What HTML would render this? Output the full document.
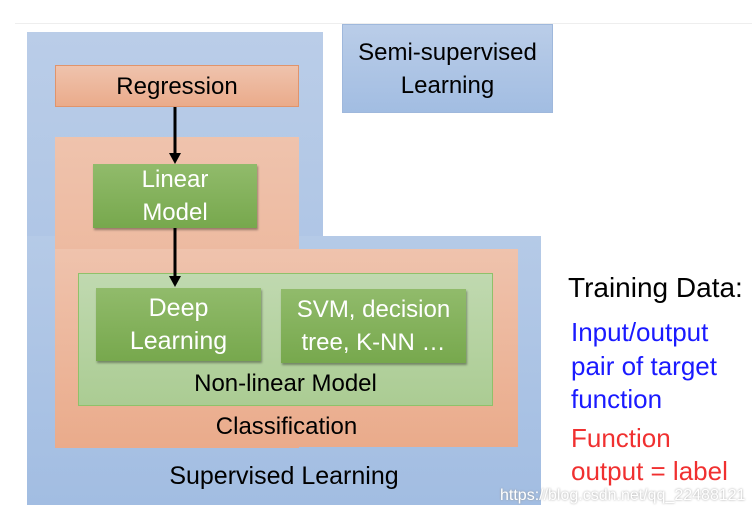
<!DOCTYPE html>
<html><head><style>
body{margin:0;width:752px;height:518px;background:#fff;position:relative;overflow:hidden;font-family:"Liberation Sans",sans-serif;}
div{position:absolute;box-sizing:border-box;}
.t{display:flex;align-items:center;justify-content:center;text-align:center;line-height:33px;font-size:24px;white-space:nowrap;}
.blue{background:linear-gradient(#bacde8,#a2bde2);}
.or{background:linear-gradient(#efc3ad,#eaab8b);}
.gb{background:linear-gradient(#91bb6b,#77a84d);color:#fff;box-shadow:1px 2px 2px rgba(0,0,0,.35);}
</style></head><body>
<div style="left:15px;top:23px;width:737px;height:1px;background:#eee"></div>
<div class="blue" style="left:27px;top:32px;width:296px;height:473px"></div>
<div class="blue" style="left:27px;top:236px;width:514px;height:269px;background:linear-gradient(#b5cae7,#a2bde2)"></div>
<div class="blue t" style="left:342px;top:24px;width:211px;height:89px;border:1px solid #9fb8dc;font-size:24px">Semi-supervised<br>Learning</div>
<div class="or t" style="left:55px;top:65px;width:244px;height:42px;border:1px solid #e0946c;font-size:24px">Regression</div>
<div class="or" style="left:55px;top:137px;width:244px;height:311px"></div>
<div class="or" style="left:55px;top:249px;width:463px;height:198px"></div>
<div class="gb t" style="left:93px;top:164px;width:164px;height:64px">Linear<br>Model</div>
<div style="left:78px;top:273px;width:415px;height:133px;background:linear-gradient(#c0d9b0,#abcc93);border:1px solid #8fc16a"></div>
<div class="gb t" style="left:96px;top:288px;width:165px;height:73px;font-size:25px">Deep<br>Learning</div>
<div class="gb t" style="left:281px;top:289px;width:185px;height:74px;font-size:24px">SVM, decision<br>tree, K-NN …</div>
<div class="t" style="left:78px;top:367px;width:415px;height:32px">Non-linear Model</div>
<div class="t" style="left:55px;top:410px;width:463px;height:32px">Classification</div>
<div class="t" style="left:27px;top:460px;width:514px;height:32px;font-size:25px">Supervised Learning</div>
<svg style="position:absolute;left:0;top:0" width="752" height="518">
<line x1="175" y1="107" x2="175" y2="155" stroke="#000" stroke-width="3"/>
<polygon points="169,153 181,153 175,164" fill="#000"/>
<line x1="175" y1="228" x2="175" y2="278" stroke="#000" stroke-width="3"/>
<polygon points="169,276 181,276 175,287" fill="#000"/>
</svg>
<div style="left:568px;top:272px;font-size:28px;color:#000;white-space:nowrap">Training Data:</div>
<div style="left:571px;top:316px;font-size:26px;color:#1a1aff;line-height:33.5px;white-space:nowrap">Input/output<br>pair of target<br>function</div>
<div style="left:571px;top:422px;font-size:26px;color:#f03030;line-height:33px;white-space:nowrap">Function<br>output = label</div>
<div style="left:500px;top:487px;font-size:16px;color:#fff;text-shadow:0 0 2px #999;white-space:nowrap">https://blog.csdn.net/qq_22488121</div>
</body></html>
